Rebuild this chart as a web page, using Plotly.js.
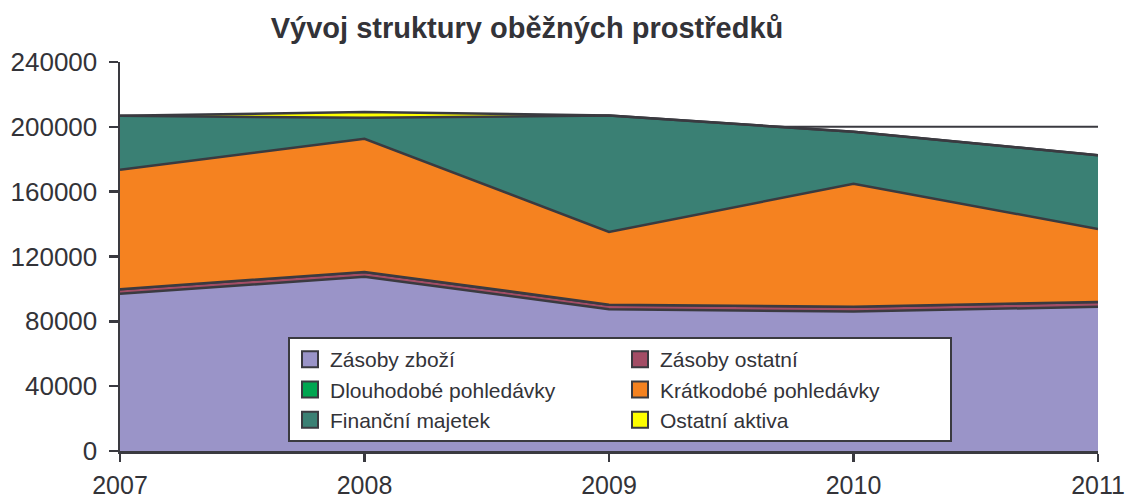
<!DOCTYPE html>
<html>
<head>
<meta charset="utf-8">
<script src="https://cdn.plot.ly/plotly-3.0.1.min.js"></script>
<style>html,body{margin:0;padding:0;background:#fff;}#chart{width:1127px;height:500px;}</style>
</head>
<body>
<div id="chart"></div>
<script>
const years = [2007, 2008, 2009, 2010, 2011];
const seriesNames = ["Zásoby zboží", "Zásoby ostatní", "Dlouhodobé pohledávky", "Krátkodobé pohledávky", "Finanční majetek", "Ostatní aktiva"];
const zasobyZbozi = [97000, 107500, 87500, 86000, 89000];
const zasobyOstatni = [2800, 3000, 2800, 3000, 3000];
const dlouhodobePohledavky = [0, 0, 0, 0, 0];
const kratkodobePohledavky = [73700, 82100, 44900, 75800, 45000];
const financniMajetek = [33300, 13000, 71800, 32200, 45500];
const ostatniAktiva = [0, 3500, 0, 0, 0];
const colors = ["#9A94C8", "#A34D66", "#00A651", "#F58220", "#3A8074", "#FFFF00"];
const yTicks = [0, 40000, 80000, 120000, 160000, 200000, 240000];

const edge = '#3a3a40';
const values = [zasobyZbozi, zasobyOstatni, dlouhodobePohledavky, kratkodobePohledavky, financniMajetek, ostatniAktiva];
const traces = values.map((v, i) => ({
  x: years, y: v, name: seriesNames[i], type: 'scatter', mode: 'lines',
  stackgroup: 'one', fillcolor: colors[i], legendgroup: 'g' + i, showlegend: false,
  line: {color: edge, width: 2.5}
}));
// legend entries with square swatches (no data drawn)
const legendTraces = seriesNames.map((n, i) => ({
  x: [null], y: [null], name: n, type: 'scatter', mode: 'markers', legendgroup: 'g' + i,
  marker: {symbol: 'square', size: 16, color: colors[i], line: {color: edge, width: 2}},
  showlegend: true, hoverinfo: 'skip'
}));

const layout = {
  width: 1127, height: 500,
  margin: {l: 120, r: 29, t: 62, b: 49},
  paper_bgcolor: '#fff', plot_bgcolor: '#fff',
  font: {family: 'Liberation Sans, Arial, sans-serif', size: 25, color: '#333338'},
  title: {text: '<b>Vývoj struktury oběžných prostředků</b>', x: 527/1127, xanchor: 'center', xref: 'container',
    y: 1 - 28/500, yref: 'container', yanchor: 'middle', font: {size: 29, color: '#333338'}},
  xaxis: {range: [2007, 2011], tickvals: years, ticktext: years.map(String), showgrid: false, zeroline: false,
    showline: true, linecolor: edge, linewidth: 2.5, ticks: 'outside', ticklen: 8, tickwidth: 2.5, tickcolor: edge,
    ticklabelstandoff: 2, tickfont: {size: 25}},
  yaxis: {range: [0, 240000], tickvals: yTicks, ticktext: yTicks.map(String), showgrid: false, zeroline: false,
    showline: true, linecolor: edge, linewidth: 2.5, ticks: 'outside', ticklen: 9, tickwidth: 2.5, tickcolor: edge,
    ticklabelstandoff: 6, tickfont: {size: 26}},
  shapes: [{type: 'line', xref: 'paper', x0: 0, x1: 1, yref: 'y', y0: 200000, y1: 200000, layer: 'below', line: {color: edge, width: 2}}],
  showlegend: true,
  legend: {orientation: 'h', x: 168/978, xanchor: 'left', y: 0.293, yanchor: 'top', traceorder: 'normal',
    bgcolor: '#fff', bordercolor: edge, borderwidth: 2, entrywidth: 285, entrywidthmode: 'pixels',
    font: {size: 21, color: '#333338'}, itemwidth: 30, tracegroupgap: 0, itemclick: false}
};
Plotly.newPlot('chart', traces.concat(legendTraces), layout, {displayModeBar: false, staticPlot: true});
</script>
</body>
</html>
